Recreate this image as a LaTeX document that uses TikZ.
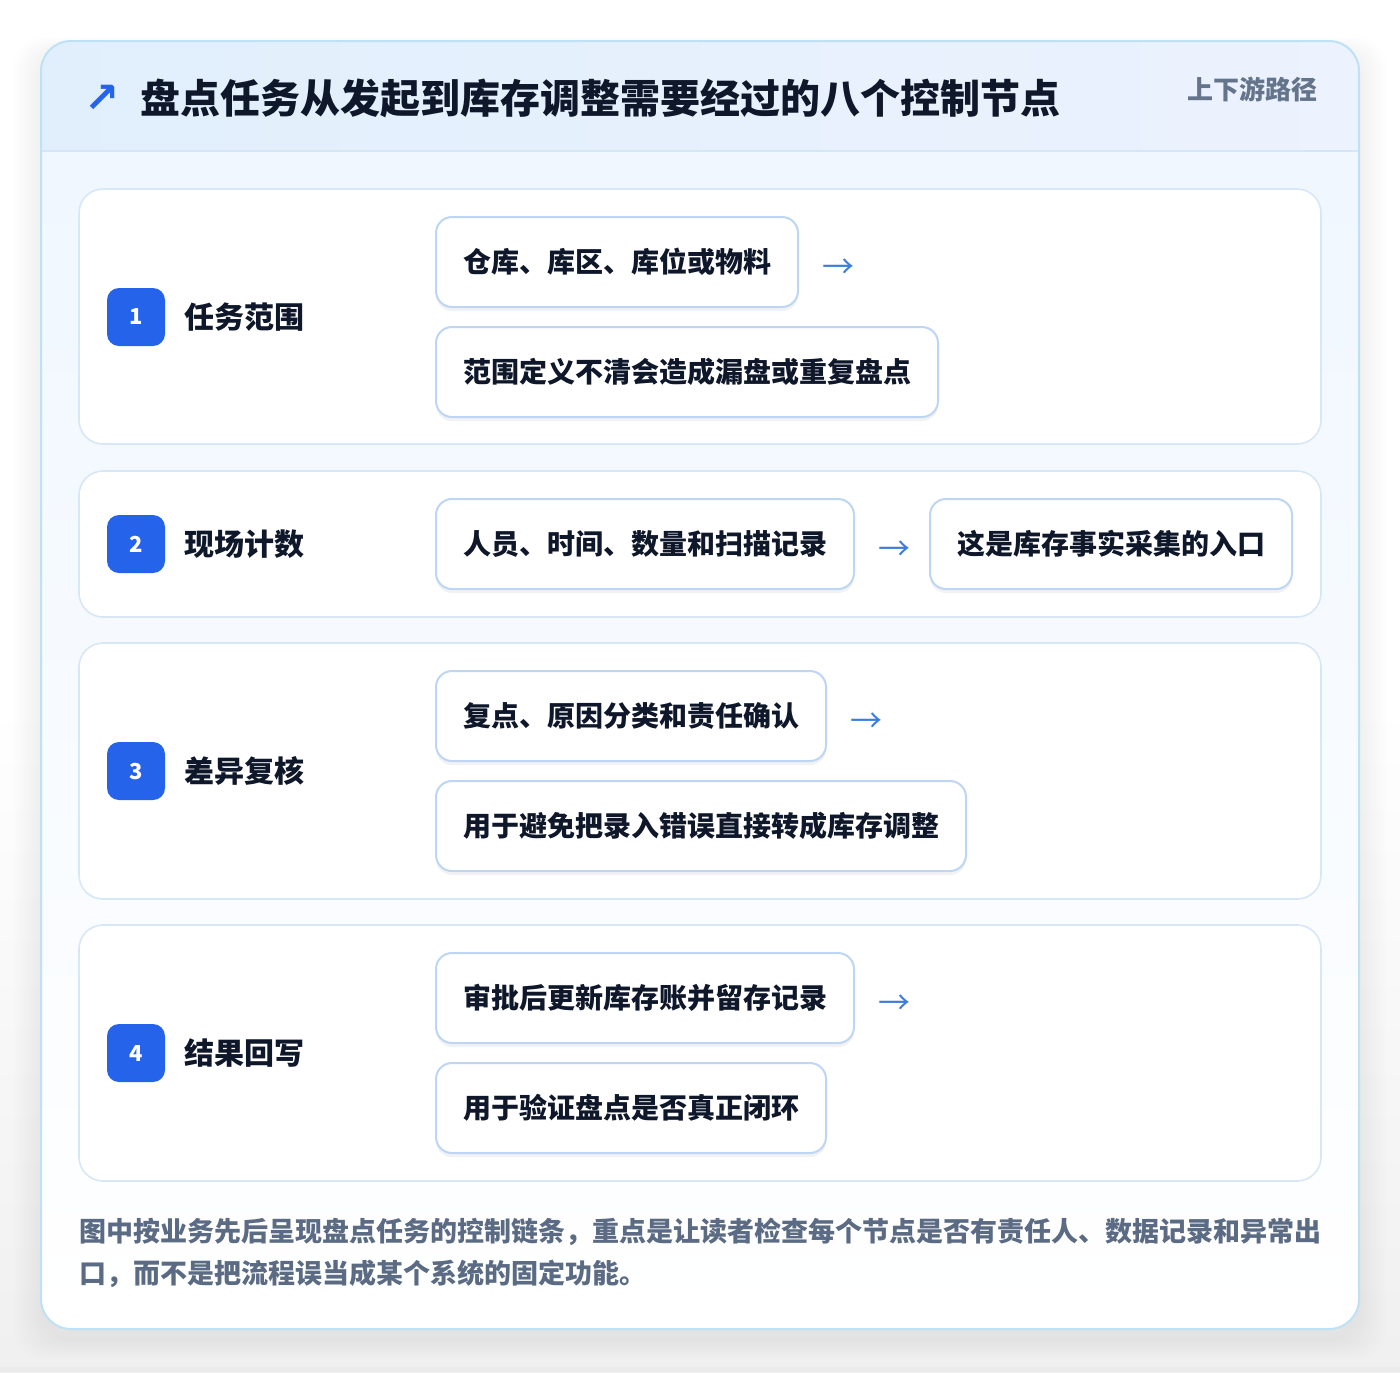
\documentclass[tikz,border=0pt]{standalone}
\usepackage{fontspec}
\setmainfont{Noto Sans CJK SC}
\newfontfamily\dejavu{DejaVu Sans}
\usetikzlibrary{positioning,shadows,calc}
\definecolor{ink}{HTML}{0F172A}
\definecolor{slate}{HTML}{64748B}
\definecolor{foot}{HTML}{5B6B84}
\definecolor{blue}{HTML}{2563EB}
\definecolor{arrowc}{HTML}{3B7DDD}
\definecolor{outerbd}{HTML}{BFE1F6}
\definecolor{cardbd}{HTML}{D8E7F8}
\definecolor{boxbd}{HTML}{BDD6F4}
\definecolor{headL}{HTML}{E1EFFC}
\definecolor{headR}{HTML}{ECF2FE}
\definecolor{bodyT}{HTML}{F0F7FF}
\definecolor{headline}{HTML}{D5E6F7}
\begin{document}
\begin{tikzpicture}[x=0.5pt,y=-0.5pt,
  card/.style={draw=cardbd,line width=0.8pt,fill=white,rounded corners=12pt},
  itembox/.style={draw=boxbd,line width=1pt,fill=white,rounded corners=8pt,
    minimum height=45pt,inner xsep=13.5pt,inner ysep=0pt,anchor=west,
    font=\bfseries\fontsize{14}{16}\selectfont,text=ink,
    drop shadow={shadow xshift=0pt,shadow yshift=-2pt,opacity=0.05,fill=black}},
  badge/.style={fill=blue,rounded corners=6pt,minimum size=29pt,inner sep=0pt,
    text=white,font=\bfseries\fontsize{11}{13}\selectfont},
  steplabel/.style={anchor=west,inner sep=0pt,text=ink,font=\bfseries\fontsize{15}{17}\selectfont},
  arrowtxt/.style={inner sep=0pt,text=arrowc,font=\fontsize{16}{18}\selectfont,yshift=-3.5pt},
]
% page background
\useasboundingbox (0,0) rectangle (1400,1372);
\fill[white] (0,0) rectangle (1400,1372);
\shade[top color=white,bottom color=black!6] (0,700) rectangle (1400,1372);
\fill[black!8] (0,1367) rectangle (1400,1372);
% soft shadow of the card
\foreach \i in {1,...,14}{
  \fill[black,opacity=0.004,rounded corners=16pt] ($(41,51)+(-2*\i,-\i)$) rectangle ($(1359,1339)+(2*\i,1.5*\i)$);
}
% outer card
\begin{scope}
  \clip[rounded corners=15pt] (41,41) rectangle (1359,1329);
  \shade[top color=bodyT,bottom color=white] (41,151) rectangle (1359,1329);
  \shade[left color=headL,right color=headR] (41,41) rectangle (1359,151);
  \draw[headline,line width=0.8pt] (41,151) -- (1359,151);
\end{scope}
\draw[outerbd,line width=1pt,rounded corners=15pt] (41,41) rectangle (1359,1329);

% header
\node[inner sep=0pt,text=blue,font=\dejavu\bfseries\fontsize{21}{24}\selectfont] (icon) at (102,99) {↗};
\node[anchor=west,inner sep=0pt,text=ink,font=\bfseries\fontsize{20}{24}\selectfont] (title) at (140,98) {盘点任务从发起到库存调整需要经过的八个控制节点};
\node[anchor=east,inner sep=0pt,text=slate,font=\bfseries\fontsize{13}{15}\selectfont] (tag) at (1318,89) {上下游路径};

% section cards
\draw[card] (79,189) rectangle (1321,444);
\draw[card] (79,471) rectangle (1321,617);
\draw[card] (79,643) rectangle (1321,899);
\draw[card] (79,925) rectangle (1321,1181);

% step 1
\node[badge] (n1) at (136,317) {1};
\node[steplabel] (l1) at (184,317) {任务范围};
\node[itembox] (b11) at (435,262) {仓库、库区、库位或物料};
\node[arrowtxt,right=11.5pt of b11] (a1) {→};
\node[itembox] (b12) at (435,372) {范围定义不清会造成漏盘或重复盘点};

% step 2
\node[badge] (n2) at (136,544) {2};
\node[steplabel] (l2) at (184,544) {现场计数};
\node[itembox] (b21) at (435,544) {人员、时间、数量和扫描记录};
\node[arrowtxt,right=11.5pt of b21] (a2) {→};
\node[itembox] (b22) at (929,544) {这是库存事实采集的入口};

% step 3
\node[badge] (n3) at (136,771) {3};
\node[steplabel] (l3) at (184,771) {差异复核};
\node[itembox] (b31) at (435,716) {复点、原因分类和责任确认};
\node[arrowtxt,right=11.5pt of b31] (a3) {→};
\node[itembox] (b32) at (435,826) {用于避免把录入错误直接转成库存调整};

% step 4
\node[badge] (n4) at (136,1053) {4};
\node[steplabel] (l4) at (184,1053) {结果回写};
\node[itembox] (b41) at (435,998) {审批后更新库存账并留存记录};
\node[arrowtxt,right=11.5pt of b41] (a4) {→};
\node[itembox] (b42) at (435,1108) {用于验证盘点是否真正闭环};

% footer
\node[anchor=north west,inner sep=0pt,align=left,text=foot,
  font=\bfseries\fontsize{13.5}{21}\selectfont] (note) at (79,1218)
  {图中按业务先后呈现盘点任务的控制链条，重点是让读者检查每个节点是否有责任人、数据记录和异常出\\口，而不是把流程误当成某个系统的固定功能。};
\end{tikzpicture}
\end{document}
